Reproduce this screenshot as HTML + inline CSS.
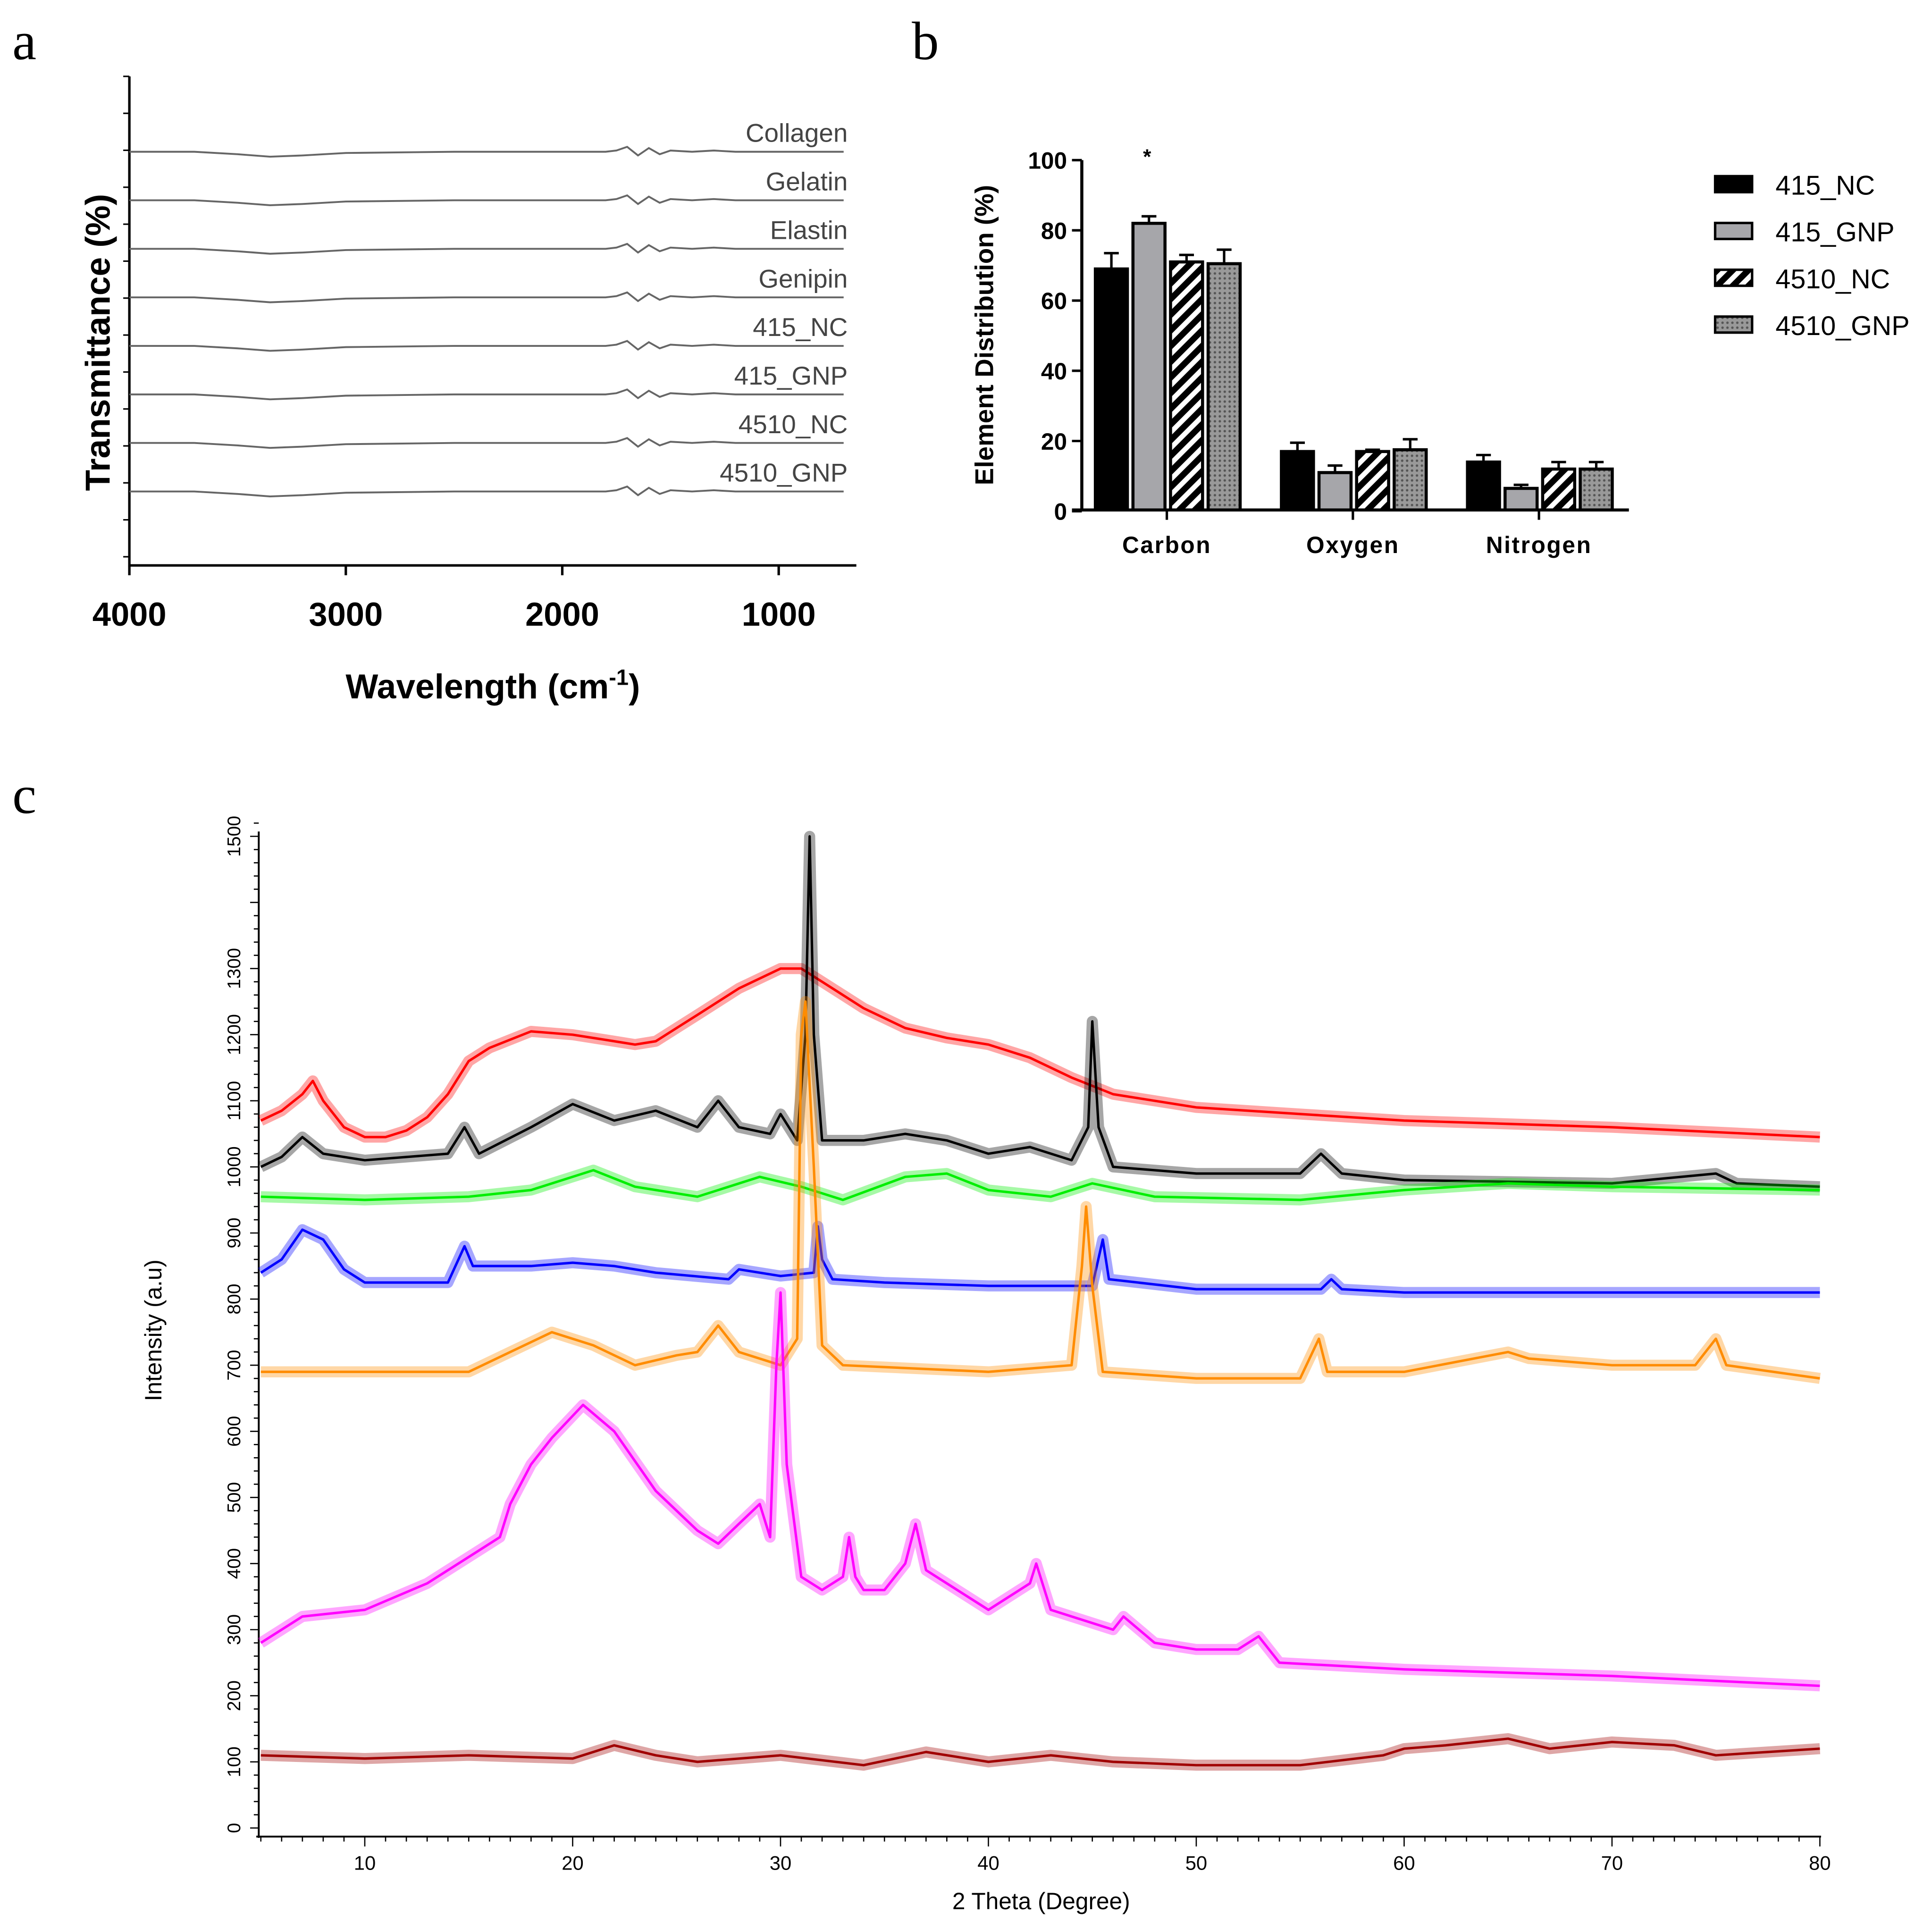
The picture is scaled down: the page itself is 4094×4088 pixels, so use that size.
<!DOCTYPE html>
<html><head><meta charset="utf-8"><style>html,body{margin:0;padding:0;background:#fff}svg{display:block}</style></head>
<body>
<svg id="fig" xmlns="http://www.w3.org/2000/svg" width="4094" height="4088" viewBox="0 0 1568 1566" preserveAspectRatio="none" font-family="Liberation Sans, Arial, sans-serif">
<defs>
<pattern id="hatch" patternUnits="userSpaceOnUse" width="9" height="9" patternTransform="rotate(45)"><rect width="9" height="9" fill="#000"/><rect width="4" height="9" fill="#fff"/></pattern>
<pattern id="dots" patternUnits="userSpaceOnUse" width="4" height="4"><rect width="4" height="4" fill="#999"/><circle cx="2" cy="2" r="1" fill="#555"/></pattern>
</defs>
<text x="10" y="48" font-family="Liberation Serif, serif" font-size="44">a</text>
<text x="740" y="48" font-family="Liberation Serif, serif" font-size="44">b</text>
<text x="10" y="660" font-family="Liberation Serif, serif" font-size="44">c</text>
<g id="pa"></g>
<g id="pb"></g>
<g id="pc"></g>
</svg>
<script>
const NS="http://www.w3.org/2000/svg";
function mk(p,t,a,txt){const e=document.createElementNS(NS,t);for(const k in a)e.setAttribute(k,a[k]);if(txt!==undefined)e.textContent=txt;p.appendChild(e);return e;}

// ---------- Panel a data ----------
const ftirSamples=["Collagen","Gelatin","Elastin","Genipin","415_NC","415_GNP","4510_NC","4510_GNP"];
const ftirOffsets=[7,6,5,4,3,2,1,0];
const ftirTicks=[4000,3000,2000,1000];
const ftirWn=[4000,3700,3500,3350,3200,3000,2500,2000,1800,1750,1700,1650,1600,1550,1500,1400,1300,1200,1000,700];
const ftirBase=[0,0,-2,-4,-3,-1,0,0,0,1,4,-3,3,-2,1,0,1,0,0,0];
const pa=document.getElementById('pa');
const ax=w=>105+(4000-w)*(632-105)/3000;
const ay=o=>399-o*39.4;
mk(pa,'line',{x1:105,y1:62,x2:105,y2:460,stroke:'#000','stroke-width':2});
mk(pa,'line',{x1:105,y1:459,x2:695,y2:459,stroke:'#000','stroke-width':2});
for(let i=0;i<=13;i++){mk(pa,'line',{x1:100,y1:62+i*30,x2:105,y2:62+i*30,stroke:'#000','stroke-width':1.2});}
ftirTicks.forEach(t=>{mk(pa,'line',{x1:ax(t),y1:459,x2:ax(t),y2:467,stroke:'#000','stroke-width':2});
 const e=mk(pa,'text',{x:ax(t),y:508,'font-size':27,'font-weight':'bold','text-anchor':'middle'},t);});
ftirSamples.forEach((s,i)=>{const b=ay(ftirOffsets[i]);
 const d=ftirWn.map((w,j)=>(j?'L':'M')+ax(w).toFixed(1)+','+(b-ftirBase[j]).toFixed(1)).join('');
 const p=mk(pa,'path',{d:d,fill:'none',stroke:'#666','stroke-width':1.5});
 const t=mk(pa,'text',{x:688,y:b-8,'font-size':21,fill:'#444','text-anchor':'end'},s);});
let t=mk(pa,'text',{transform:'translate(89,278) rotate(-90)','font-size':28,'font-weight':'bold','text-anchor':'middle'},'Transmittance (%)');
t=mk(pa,'text',{x:400,y:567,'font-size':28,'font-weight':'bold','text-anchor':'middle'});
t.innerHTML='Wavelength (cm<tspan dy="-11" font-size="18">-1</tspan><tspan dy="11">)</tspan>';

// ---------- Panel b data ----------
const elements=["Carbon","Oxygen","Nitrogen"];
const groups=["415_NC","415_GNP","4510_NC","4510_GNP"];
const means=[[69,82,71,70.5],[17,11,17,17.5],[14,6.5,12,12]];
const errs=[[4.5,2,2,4],[2.5,2,0.5,3],[2,1,2,2]];
const yTicksB=[0,20,40,60,80,100];
const fills=['#000','#a6a6aa','url(#hatch)','url(#dots)'];
const pb=document.getElementById('pb');
const by=v=>415-v*2.85;
const gc=[947,1098,1249];
mk(pb,'line',{x1:878,y1:130,x2:878,y2:415,stroke:'#000','stroke-width':2.5});
mk(pb,'line',{x1:870,y1:414,x2:1322,y2:414,stroke:'#000','stroke-width':2.5});
yTicksB.forEach(v=>{mk(pb,'line',{x1:870,y1:by(v),x2:878,y2:by(v),stroke:'#000','stroke-width':2});
 const e=mk(pb,'text',{x:866,y:by(v)+7,'font-size':19,'font-weight':'bold','text-anchor':'end'},v);});
elements.forEach((el,g)=>{
 mk(pb,'line',{x1:gc[g],y1:414,x2:gc[g],y2:422,stroke:'#000','stroke-width':2});
 const e=mk(pb,'text',{x:gc[g],y:449,'font-size':19,'font-weight':'bold','text-anchor':'middle','letter-spacing':'1'},el);
 groups.forEach((gr,i)=>{const x=gc[g]-58+i*30.5,v=means[g][i];
  mk(pb,'line',{x1:x+13,y1:by(v),x2:x+13,y2:by(v+errs[g][i]),stroke:'#000','stroke-width':2});
  mk(pb,'line',{x1:x+7,y1:by(v+errs[g][i]),x2:x+19,y2:by(v+errs[g][i]),stroke:'#000','stroke-width':2});
  const r=mk(pb,'rect',{x:x,y:by(v),width:26,height:414-by(v),fill:fills[i],stroke:'#000','stroke-width':2.5});
  });
});
mk(pb,'text',{x:931,y:133,'font-size':17,'font-weight':'bold','text-anchor':'middle'},'*');
t=mk(pb,'text',{transform:'translate(806,272) rotate(-90)','font-size':21,'font-weight':'bold','text-anchor':'middle'},'Element Distribution (%)');
groups.forEach((gr,i)=>{const y=150+i*38;
 const r=mk(pb,'rect',{x:1392,y:y-7,width:30,height:13,fill:fills[i],stroke:'#000','stroke-width':2});
 const e=mk(pb,'text',{x:1441,y:y+8,'font-size':22},gr);});

// ---------- Panel c data ----------
const xTicksC=[10,20,30,40,50,60,70,80];
const yTicksC=[0,100,200,300,400,500,600,700,800,900,1000,1100,1200,1300,1500];
const redX=[5,6,7,7.5,8,9,10,11,12,13,14,15,16,18,20,22,23,24,25,26,28,30,31,32,34,36,38,40,42,44,46,50,55,60,70,80];
const redY=[1070,1085,1110,1130,1100,1060,1045,1045,1055,1075,1110,1160,1180,1205,1200,1190,1185,1190,1210,1230,1270,1300,1300,1280,1240,1210,1195,1185,1165,1135,1110,1090,1080,1070,1060,1045];
const blackX=[5,6,7,8,10,14,14.8,15.5,18,20,22,24,26,27,28,29.5,30,30.8,31.2,31.4,31.6,32,34,36,38,40,42,44,44.8,45,45.3,46,50,55,56,57,60,70,75,76,80];
const blackY=[1000,1015,1045,1020,1010,1020,1060,1020,1060,1095,1070,1085,1060,1100,1060,1050,1080,1040,1200,1500,1200,1040,1040,1050,1040,1020,1030,1010,1060,1220,1060,1000,990,990,1020,990,980,975,990,975,970];
const greenX=[5,10,15,18,21,23,26,29,31,33,36,38,40,43,45,48,55,60,65,70,80];
const greenY=[955,950,955,965,995,970,955,985,970,950,985,990,965,955,975,955,950,965,975,970,965];
const blueX=[5,6,7,8,9,10,14,14.8,15.2,18,20,22,24,27.5,28,30,31.6,31.8,32,32.5,35,40,45,45.5,45.8,50,56,56.5,57,60,70,80];
const blueY=[840,860,905,890,845,825,825,880,850,850,855,850,840,830,845,835,840,910,860,830,825,820,820,890,830,815,815,830,815,810,810,810];
const orangeX=[5,10,15,17,19,21,23,25,26,27,28,30,30.8,31,31.2,31.6,32,33,40,44,44.5,44.7,45,45.5,50,55,55.9,56.3,60,65,66,70,74,75,75.5,80];
const orangeY=[690,690,690,720,750,730,700,715,720,760,720,700,740,1200,1250,1000,730,700,690,700,850,940,820,690,680,680,740,690,690,720,710,700,700,740,700,680];
const magentaX=[5,7,10,13,15,16.5,17,18,19,20.5,22,24,26,27,28,29,29.5,29.8,30,30.3,31,32,33,33.3,33.6,34,35,36,36.5,37,38,40,42,42.3,43,46,46.5,48,50,52,53,54,60,70,80];
const magentaY=[280,320,330,370,410,440,490,550,590,640,600,510,450,430,460,490,440,700,810,550,380,360,380,440,380,360,360,400,460,390,370,330,370,400,330,300,320,280,270,270,290,250,240,230,215];
const darkredX=[5,10,15,20,22,24,26,30,34,37,40,43,46,50,55,59,60,62,65,67,70,73,75,80];
const darkredY=[110,105,110,105,125,110,100,110,95,115,100,110,100,95,95,110,120,125,135,120,130,125,110,120];
const xrdSeries=[["red","#ff0000",redX,redY],["black","#000",blackX,blackY],["green","#00ee00",greenX,greenY],["blue","#0000ff",blueX,blueY],["orange","#ff8c00",orangeX,orangeY],["magenta","#ff00ff",magentaX,magentaY],["darkred","#a00000",darkredX,darkredY]];
const pc=document.getElementById('pc');
const cx=v=>211.7+(v-5)*(1477-211.7)/75;
const cy=v=>1484-v*0.5367;
mk(pc,'line',{x1:210,y1:675,x2:210,y2:1492,stroke:'#000','stroke-width':1.5});
mk(pc,'line',{x1:208,y1:1491,x2:1478,y2:1491,stroke:'#000','stroke-width':1.5});
for(let v=0;v<=1520;v+=20){const big=v%100===0;mk(pc,'line',{x1:big?203:206,y1:cy(v),x2:210,y2:cy(v),stroke:'#000','stroke-width':1});}
for(let v=5;v<=80;v++){const big=v%10===0;mk(pc,'line',{x1:cx(v),y1:1491,x2:cx(v),y2:big?1499:1495,stroke:'#000','stroke-width':1});}
yTicksC.forEach(v=>{const e=mk(pc,'text',{transform:`translate(195,${cy(v)}) rotate(-90)`,'font-size':15,'text-anchor':'middle'},v);});
xTicksC.forEach(v=>{const e=mk(pc,'text',{x:cx(v),y:1518,'font-size':16,'text-anchor':'middle'},v);});
xrdSeries.forEach(s=>{const d=s[2].map((x,j)=>(j?'L':'M')+cx(x).toFixed(1)+','+cy(s[3][j]).toFixed(1)).join('');
 const p=mk(pc,'path',{d:d,fill:'none',stroke:s[1],'stroke-width':9,'stroke-opacity':0.35,'stroke-linejoin':'round'});
 
 const q=mk(pc,'path',{d:d,fill:'none',stroke:s[1],'stroke-width':2,'stroke-linejoin':'round'});
 });
t=mk(pc,'text',{transform:'translate(131,1080) rotate(-90)','font-size':19,'text-anchor':'middle'},'Intensity (a.u)');
t=mk(pc,'text',{x:845,y:1550,'font-size':19,'text-anchor':'middle'},'2 Theta (Degree)');
</script>
</body></html>
